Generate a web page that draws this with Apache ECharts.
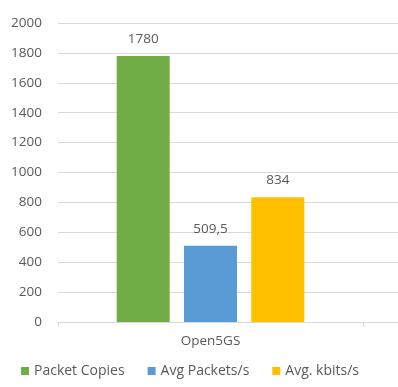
<!DOCTYPE html>
<html>
<head>
<meta charset="utf-8">
<script src="https://cdn.jsdelivr.net/npm/echarts@6/dist/echarts.min.js"></script>
<style>
  html, body { margin: 0; padding: 0; background: #fff; }
  #chart { width: 398px; height: 387px; }
</style>
</head>
<body>
<div id="chart"></div>
<script>
'use strict'
// data
var categories = ['Open5GS']
var seriesNames = ['Packet Copies', 'Avg Packets/s', 'Avg. kbits/s']
var packetCopies = [1780]
var avgPackets = [509.5]
var avgKbits = [834]
var yTicks = [0, 200, 400, 600, 800, 1000, 1200, 1400, 1600, 1800, 2000]

var colors = ['#70AD47', '#5B9BD5', '#FFC000']
var textColor = '#595959'
var font = 'Open Sans'

var myChart = echarts.init(document.getElementById('chart'))

function bar(name, data, color) {
	return {
		name: name,
		type: 'bar',
		data: data,
		barWidth: 53,
		barGap: '27%',
		itemStyle: { color: color },
		label: {
			show: true,
			position: 'top',
			distance: 10,
			color: textColor,
			fontFamily: font,
			fontSize: 13.5,
			// comma decimal as in the picture
			formatter: function (p) { return String(p.value).replace('.', ',') }
		}
	}
}

var option = {
	animation: false,
	color: colors,
	textStyle: { fontFamily: font },
	legend: {
		data: seriesNames,
		bottom: 4,
		left: 16,
		icon: 'rect',
		itemWidth: 8,
		itemHeight: 8,
		itemGap: 23,
		textStyle: { color: textColor, fontSize: 14, fontFamily: font }
	},
	grid: [
		{ left: 58, right: 35, top: 23, bottom: 65 },
		{ left: 58, right: 0, top: 23, bottom: 65 }
	],
	xAxis: [
		{
			type: 'category',
			gridIndex: 0,
			data: categories,
			axisLine: { lineStyle: { color: '#d9d9d9' } },
			axisTick: { show: true, length: 5, lineStyle: { color: '#d9d9d9' } },
			axisLabel: { color: textColor, fontSize: 13.5, margin: 12, fontFamily: font }
		},
		{
			type: 'value',
			gridIndex: 1,
			min: 0, max: 1,
			axisLine: { show: true, lineStyle: { color: '#d9d9d9' } },
			axisTick: { show: false },
			axisLabel: { show: false },
			splitLine: { show: false }
		}
	],
	yAxis: [
		{
			type: 'value',
			gridIndex: 0,
			min: yTicks[0],
			max: yTicks[yTicks.length - 1],
			interval: 200,
			axisLine: { show: false },
			axisTick: { show: false },
			axisLabel: {
				color: textColor, fontSize: 13.5, margin: 16, fontFamily: font,
				formatter: function (v) { return String(v) }
			},
			splitLine: { show: false }
		},
		{
			type: 'value',
			gridIndex: 1,
			min: yTicks[0],
			max: yTicks[yTicks.length - 1],
			interval: 200,
			axisLine: { show: false },
			axisTick: { show: false },
			axisLabel: { show: false },
			splitLine: { lineStyle: { color: '#d9d9d9', width: 1 } }
		}
	],
	series: [
		bar(seriesNames[0], packetCopies, colors[0]),
		bar(seriesNames[1], avgPackets, colors[1]),
		bar(seriesNames[2], avgKbits, colors[2])
	]
}
myChart.setOption(option)
window.onresize = myChart.resize
</script>
</body>
</html>
